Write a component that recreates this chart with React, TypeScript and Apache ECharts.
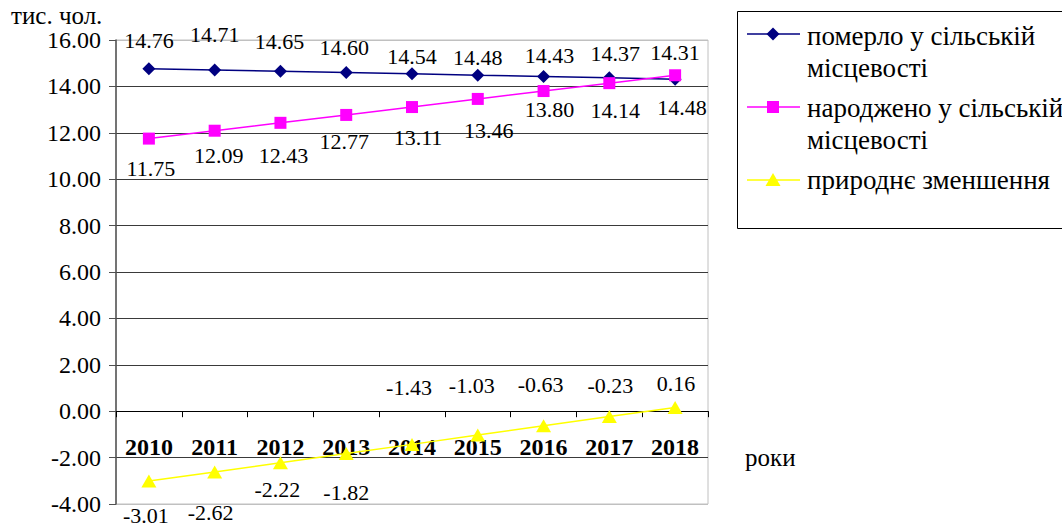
import React, { useEffect, useRef } from "react";
import * as echarts from "echarts";

const years = ["2010", "2011", "2012", "2013", "2014", "2015", "2016", "2017", "2018"];
const died = [14.76, 14.71, 14.65, 14.6, 14.54, 14.48, 14.43, 14.37, 14.31];
const born = [11.75, 12.09, 12.43, 12.77, 13.11, 13.46, 13.8, 14.14, 14.48];
const decrease = [-3.01, -2.62, -2.22, -1.82, -1.43, -1.03, -0.63, -0.23, 0.16];
const seriesNames = ["померло у сільській місцевості", "народжено у сільській місцевості", "природнє зменшення"];
const legendLines = [["померло у сільській", "місцевості"], ["народжено у сільській", "місцевості"], ["природнє зменшення"]];
const yMin = -4;
const yMax = 16;
const yStep = 2;
const yUnit = "тис. чол.";
const xUnit = "роки";

// label nudges (styling only), [dx, dy] from point centre
const diedShift = [[0, -28], [0, -35], [-1, -30], [-2, -25], [0, -17], [0, -18], [6, -21], [6, -24], [0, -27]];
const bornShift = [[2, 30], [4, 25], [3, 33], [-2, 27], [6, 30], [11, 32], [6, 18], [6, 27], [7, 32]];
const decShift = [[-3, 34], [-4, 41], [-3, 27], [0, 39], [-3, -57], [-6, -50], [-3, -41], [1, -31], [1, -24]];

const FONT = "'Liberation Serif', 'Times New Roman', serif";
const colors = ["#000080", "#ff00ff", "#ffff00"];
const symbols = ["diamond", "rect", "triangle"];
const symbolSizes: any[] = [[13, 13], [12, 12], [15, 13]];

const GRID_TOP = 40;
const GRID_H = 464;

function buildSeries(name: string, values: number[], shifts: number[][], idx: number) {
  return {
    name,
    type: "line",
    data: values.map((v, i) => ({ value: v, label: { offset: shifts[i] } })),
    symbol: symbols[idx],
    symbolSize: symbolSizes[idx],
    itemStyle: { color: colors[idx] },
    lineStyle: { color: colors[idx], width: 1.5 },
    label: {
      show: true,
      position: "inside",
      formatter: (p: any) => Number(p.value).toFixed(2),
      fontFamily: FONT,
      fontSize: 22,
      lineHeight: 20,
      color: "#000",
    },
    z: 3 + idx,
  };
}

export default function App() {
  const ref = useRef<HTMLDivElement>(null);
  useEffect(() => {
    const chart = echarts.init(ref.current!, null, { renderer: "svg" });
    const splitColors: string[] = [];
    for (let v = yMin; v <= yMax; v += yStep) {
      splitColors.push(v === yMin || v === yMax ? "#c0c0c0" : "#3a3a3a");
    }
    // move the category axis up to the value 0 line
    const zeroOffset = -((0 - yMin) / (yMax - yMin)) * GRID_H;

    const legendY = [[36, 68], [108, 140], [180]];
    const iconY = [34, 107, 180];
    const legendGraphics: any[] = [
      {
        type: "rect",
        shape: { x: 737.5, y: 11.5, width: 340, height: 217 },
        style: { fill: "none", stroke: "#000", lineWidth: 1 },
      },
    ];
    legendLines.forEach((lines, i) => {
      legendGraphics.push({
        type: "line",
        shape: { x1: 747, y1: iconY[i], x2: 800, y2: iconY[i] },
        style: { stroke: colors[i], lineWidth: 1.5 },
      });
      const cy = iconY[i];
      if (i === 0) {
        legendGraphics.push({
          type: "polygon",
          shape: { points: [[773, cy - 6.5], [779.5, cy], [773, cy + 6.5], [766.5, cy]] },
          style: { fill: colors[i] },
        });
      } else if (i === 1) {
        legendGraphics.push({
          type: "rect",
          shape: { x: 767, y: cy - 6, width: 12, height: 12 },
          style: { fill: colors[i] },
        });
      } else {
        legendGraphics.push({
          type: "polygon",
          shape: { points: [[773, cy - 7], [780.5, cy + 6], [765.5, cy + 6]] },
          style: { fill: colors[i] },
        });
      }
      lines.forEach((t, j) => {
        legendGraphics.push({
          type: "text",
          x: 807,
          y: legendY[i][j],
          style: {
            text: t,
            fontFamily: FONT,
            fontSize: 27,
            lineHeight: 28,
            fill: "#000",
            verticalAlign: "middle",
            align: "left",
          },
        });
      });
    });

    chart.setOption({
      animation: false,
      backgroundColor: "#fff",
      grid: {
        left: 116,
        top: GRID_TOP,
        width: 592,
        height: GRID_H,
        show: true,
        borderColor: "#c0c0c0",
        borderWidth: 1,
        backgroundColor: "transparent",
        containLabel: false,
        outerBoundsMode: "none",
      },
      xAxis: {
        type: "category",
        data: years,
        boundaryGap: true,
        position: "bottom",
        offset: zeroOffset,
        axisLine: { show: true, onZero: false, lineStyle: { color: "#000", width: 1 } },
        axisTick: { show: true, length: 6, lineStyle: { color: "#000" } },
        axisLabel: {
          fontFamily: FONT,
          fontSize: 24,
          fontWeight: "bold",
          color: "#000",
          margin: 24,
        },
        splitLine: { show: false },
      },
      yAxis: {
        type: "value",
        min: yMin,
        max: yMax,
        interval: yStep,
        axisLine: { show: true, onZero: false, lineStyle: { color: "#505050", width: 1.5 } },
        axisTick: { show: true, length: 7, lineStyle: { color: "#505050" } },
        axisLabel: {
          formatter: (v: number) => v.toFixed(2),
          fontFamily: FONT,
          fontSize: 24,
          lineHeight: 22,
          color: "#000",
          margin: 15,
        },
        splitLine: { show: true, lineStyle: { color: splitColors, width: 1 } },
      },
      series: [
        buildSeries(seriesNames[0], died, diedShift, 0),
        buildSeries(seriesNames[1], born, bornShift, 1),
        buildSeries(seriesNames[2], decrease, decShift, 2),
      ],
      graphic: [
        {
          type: "text",
          x: 11,
          y: 15,
          style: {
            text: yUnit,
            fontFamily: FONT,
            fontSize: 25,
            lineHeight: 22,
            fill: "#000",
            verticalAlign: "middle",
          },
        },
        {
          type: "text",
          x: 745,
          y: 457,
          style: { text: xUnit, fontFamily: FONT, fontSize: 25, fill: "#000", verticalAlign: "middle" },
        },
        ...legendGraphics,
      ],
    });
    return () => chart.dispose();
  }, []);
  return (
    <div
      ref={ref}
      style={{ position: "absolute", left: 0, top: 0, width: 1062, height: 529, background: "#fff" }}
    />
  );
}
